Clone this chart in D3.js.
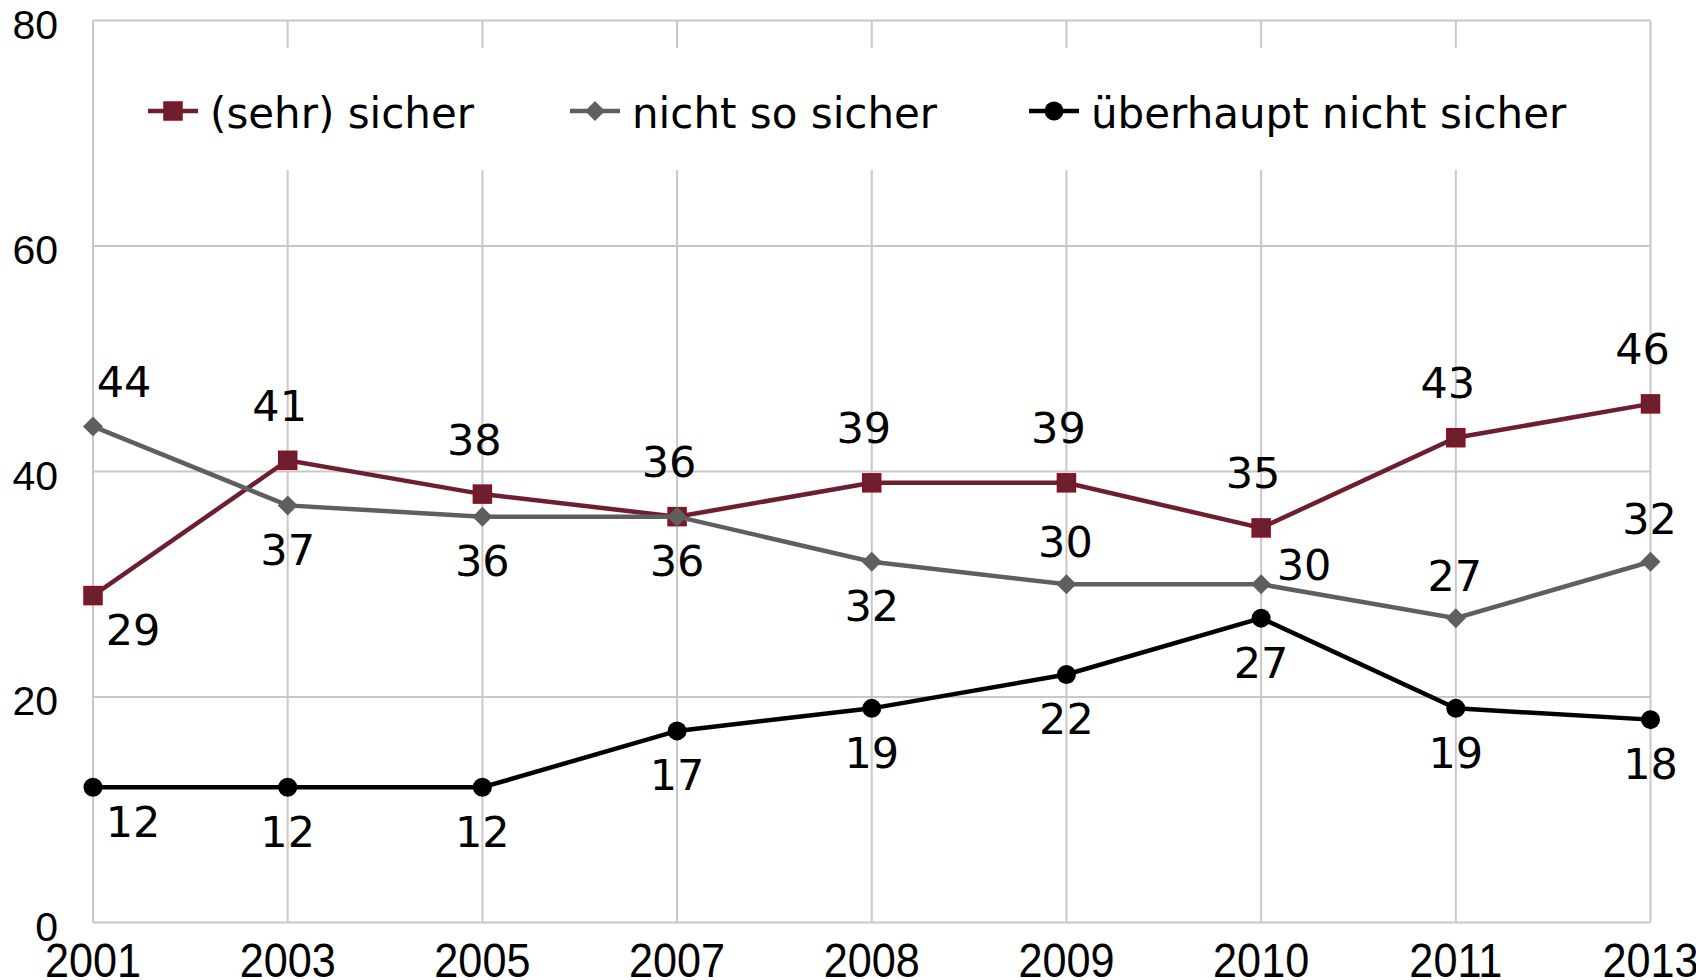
<!DOCTYPE html>
<meta charset="utf-8">
<script src="https://d3js.org/d3.v7.min.js"></script>
<style>
  body { margin: 0; background: #fff; }
</style>
<div id="my_dataviz"></div>

<script>
// data
var years = ["2001", "2003", "2005", "2007", "2008", "2009", "2010", "2011", "2013"];
var sicher = [29, 41, 38, 36, 39, 39, 35, 43, 46];
var nichtSo = [44, 37, 36, 36, 32, 30, 30, 27, 32];
var ueberhaupt = [12, 12, 12, 17, 19, 22, 27, 19, 18];
var yTicks = [0, 20, 40, 60, 80];

// where each data label sits relative to its point
var labelPos = {
  t: [-8, -55], g: [-1, -43], b: [0, 44], r: [43, -20], tr: [31, -45], br: [40, 34]
};

var series = [
  { name: "(sehr) sicher", values: sicher, color: "#6E1F2F", marker: "square",
    labels: ["br", "t", "t", "t", "t", "t", "t", "t", "t"] },
  { name: "nicht so sicher", values: nichtSo, color: "#5F5F5F", marker: "diamond",
    labels: ["tr", "b", "b", "b", "b", "g", "r", "g", "g"] },
  { name: "überhaupt nicht sicher", values: ueberhaupt, color: "#000000", marker: "circle",
    labels: ["br", "b", "b", "b", "b", "b", "b", "b", "b"] }
];

var width = 1696, height = 980;
var plotLeft = 93, plotRight = 1650.5, plotTop = 20.5, plotBottom = 922.6;

var svg = d3.select("#my_dataviz")
  .append("svg")
    .attr("width", width)
    .attr("height", height);

var x = d3.scalePoint()
  .domain(years)
  .range([plotLeft, plotRight]);

var y = d3.scaleLinear()
  .domain([0, 80])
  .range([plotBottom, plotTop]);

var gridColor = "#C8C8C8";

// horizontal grid lines
svg.append("g")
  .selectAll("line")
  .data(yTicks)
  .enter()
  .append("line")
    .attr("x1", plotLeft).attr("x2", plotRight)
    .attr("y1", function(d) { return y(d); })
    .attr("y2", function(d) { return y(d); })
    .attr("stroke", gridColor)
    .attr("stroke-width", 2);

// vertical grid lines
svg.append("g")
  .selectAll("line")
  .data(years)
  .enter()
  .append("line")
    .attr("x1", function(d) { return x(d); })
    .attr("x2", function(d) { return x(d); })
    .attr("y1", plotTop).attr("y2", plotBottom)
    .attr("stroke", gridColor)
    .attr("stroke-width", 2);

// y tick labels
svg.append("g")
  .selectAll("text")
  .data(yTicks)
  .enter()
  .append("text")
    .attr("x", 58)
    .attr("y", function(d) { return y(d) + 18; })
    .attr("text-anchor", "end")
    .style("font-family", "'Liberation Sans', Arial, sans-serif")
    .style("font-size", "41px")
    .attr("fill", "#000")
    .text(function(d) { return d; });

// x tick labels (slightly condensed, as in the original)
svg.append("g")
  .selectAll("text")
  .data(years)
  .enter()
  .append("text")
    .attr("transform", function(d) { return "translate(" + x(d) + ",977) scale(0.9,1)"; })
    .attr("text-anchor", "middle")
    .style("font-family", "'Liberation Sans', Arial, sans-serif")
    .style("font-size", "48px")
    .attr("fill", "#000")
    .text(function(d) { return d; });

// legend background hides the grid behind it
svg.append("rect")
  .attr("x", 110).attr("y", 48)
  .attr("width", 1530).attr("height", 122)
  .attr("fill", "#fff");

function drawMarker(g, type, color, cx, cy) {
  if (type === "square") {
    g.append("rect")
      .attr("x", cx - 9).attr("y", cy - 9)
      .attr("width", 18).attr("height", 18)
      .attr("fill", color)
      .attr("stroke", "#8A0F22")
      .attr("stroke-width", 1.5);
  } else if (type === "diamond") {
    g.append("path")
      .attr("d", "M" + cx + "," + (cy - 10) + "L" + (cx + 10) + "," + cy +
                 "L" + cx + "," + (cy + 10) + "L" + (cx - 10) + "," + cy + "Z")
      .attr("fill", color);
  } else {
    g.append("circle")
      .attr("cx", cx).attr("cy", cy).attr("r", 9.5)
      .attr("fill", color);
  }
}

var line = d3.line()
  .x(function(d, i) { return x(years[i]); })
  .y(function(d) { return y(d); });

// series lines, markers and labels
series.forEach(function(s) {
  var g = svg.append("g");
  g.append("path")
    .datum(s.values)
    .attr("d", line)
    .attr("fill", "none")
    .attr("stroke", s.color)
    .attr("stroke-width", 4.5);

  s.values.forEach(function(v, i) {
    drawMarker(g, s.marker, s.color, x(years[i]), y(v));
  });

  g.selectAll("text")
    .data(s.values)
    .enter()
    .append("text")
      .attr("x", function(d, i) { return x(years[i]) + labelPos[s.labels[i]][0]; })
      .attr("y", function(d, i) { return y(d) + labelPos[s.labels[i]][1]; })
      .attr("dy", "0.36em")
      .attr("text-anchor", "middle")
      .style("font-family", "'DejaVu Sans', Verdana, sans-serif")
      .style("font-size", "43px")
      .attr("fill", "#000")
      .text(function(d) { return d; });
});

// legend
var legendX = [148, 570, 1029];
series.forEach(function(s, i) {
  var g = svg.append("g");
  var lx = legendX[i], ly = 111;
  g.append("line")
    .attr("x1", lx).attr("x2", lx + 50)
    .attr("y1", ly).attr("y2", ly)
    .attr("stroke", s.color)
    .attr("stroke-width", 4.5);
  drawMarker(g, s.marker, s.color, lx + 25, ly);
  g.append("text")
    .attr("x", lx + 62)
    .attr("y", 128)
    .style("font-family", "'DejaVu Sans', Verdana, sans-serif")
    .style("font-size", "42px")
    .attr("fill", "#000")
    .text(s.name);
});
</script>
